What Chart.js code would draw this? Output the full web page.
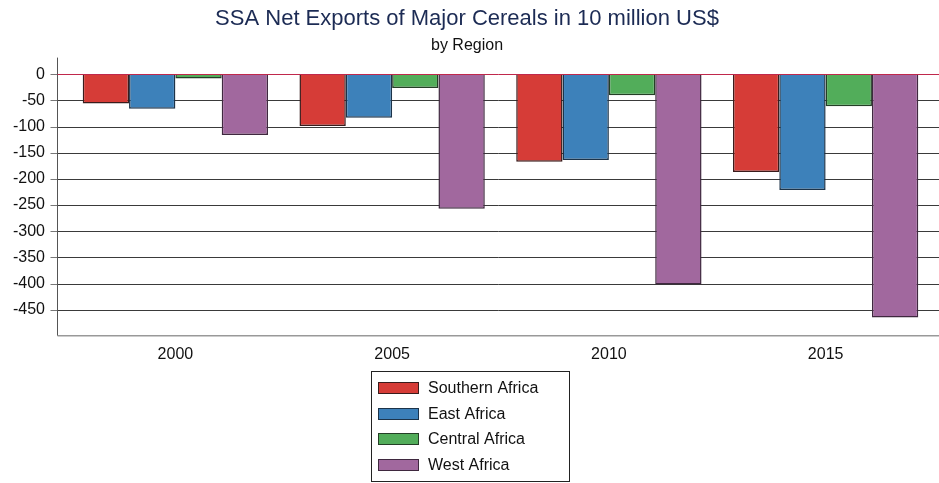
<!DOCTYPE html>
<html>
<head>
<meta charset="utf-8">
<script src="https://cdn.jsdelivr.net/npm/chart.js@4"></script>
<style>
  html, body { margin: 0; padding: 0; background: #fff; }
</style>
</head>
<body>
<canvas id="myChart" width="939" height="483"></canvas>
<script>
const years = ["2000", "2005", "2010", "2015"];
const southernAfrica = [-56, -99, -167, -187];
const eastAfrica = [-66, -83, -164, -221];
const centralAfrica = [-8, -26, -40, -61];
const westAfrica = [-116, -257, -402, -465];
const yTicks = [0, -50, -100, -150, -200, -250, -300, -350, -400, -450];

const FONT = '"Liberation Sans", Arial, sans-serif';

// grid, axis lines and tick marks, drawn a bit left of the bars
const framePlugin = {
  id: "frame",
  beforeDatasetsDraw(chart) {
    const { ctx, chartArea: a, scales: { y } } = chart;
    const axisX = a.left - 9.5;
    ctx.save();
    ctx.lineWidth = 1;
    y.ticks.forEach((t) => {
      const py = Math.round(y.getPixelForValue(t.value)) + 0.5;
      ctx.strokeStyle = "#777";
      ctx.beginPath();
      ctx.moveTo(axisX - 7, py);
      ctx.lineTo(axisX, py);
      ctx.stroke();
      if (t.value === 0) return;
      ctx.strokeStyle = "#3a3a3a";
      ctx.beginPath();
      ctx.moveTo(axisX, py);
      ctx.lineTo(chart.width, py);
      ctx.stroke();
    });
    ctx.strokeStyle = "#555";
    ctx.beginPath();
    ctx.moveTo(axisX, a.top);
    ctx.lineTo(axisX, a.bottom);
    ctx.stroke();
    ctx.strokeStyle = "#999";
    ctx.lineWidth = 1.5;
    ctx.beginPath();
    ctx.moveTo(axisX, a.bottom);
    ctx.lineTo(chart.width, a.bottom);
    ctx.stroke();
    ctx.restore();
  },
  afterDatasetsDraw(chart) {
    const { ctx, chartArea: a, scales: { y } } = chart;
    const py = Math.round(y.getPixelForValue(0)) + 0.5;
    ctx.save();
    ctx.strokeStyle = "#c0284c";
    ctx.lineWidth = 1;
    ctx.beginPath();
    ctx.moveTo(a.left - 9.5, py);
    ctx.lineTo(chart.width, py);
    ctx.stroke();
    ctx.restore();
  },
};

// boxed one-column legend under the plot
const boxLegend = {
  id: "boxLegend",
  afterDraw(chart) {
    const { ctx } = chart;
    const left = 371, top = 371, w = 198, h = 110, rowH = 25.7;
    ctx.save();
    ctx.strokeStyle = "#222";
    ctx.lineWidth = 1;
    ctx.strokeRect(left + 0.5, top + 0.5, w, h);
    ctx.font = "16px " + FONT;
    ctx.textBaseline = "middle";
    chart.data.datasets.forEach((ds, i) => {
      const cy = Math.round(top + 17 + i * rowH);
      ctx.fillStyle = ds.backgroundColor;
      ctx.fillRect(left + 7, cy - 6, 41, 12);
      ctx.strokeStyle = ds.borderColor;
      ctx.strokeRect(left + 7.5, cy - 5.5, 40, 11);
      ctx.fillStyle = "#111";
      ctx.fillText(ds.label, left + 57, cy + 1);
    });
    ctx.restore();
  },
};

const data = {
  labels: years,
  datasets: [
    { label: "Southern Africa", data: southernAfrica, backgroundColor: "#d63c37", borderColor: "#3a1c1c" },
    { label: "East Africa", data: eastAfrica, backgroundColor: "#3d81ba", borderColor: "#1c3349" },
    { label: "Central Africa", data: centralAfrica, backgroundColor: "#52ad5a", borderColor: "#243f26" },
    { label: "West Africa", data: westAfrica, backgroundColor: "#a1689e", borderColor: "#3f283f" },
  ],
};
data.datasets.forEach((ds) => {
  ds.borderWidth = 1.5;
  ds.barPercentage = 1;
  ds.categoryPercentage = 0.855;
});

const config = {
  type: "bar",
  data: data,
  options: {
    responsive: false,
    animation: false,
    devicePixelRatio: 1,
    layout: { padding: { left: 0, right: 5, top: 1, bottom: 110 } },
    plugins: {
      legend: { display: false },
      tooltip: { enabled: false },
      title: {
        display: true,
        text: "SSA Net Exports of Major Cereals in 10 million US$",
        color: "#1c2b54",
        font: { family: FONT, size: 22, weight: "normal" },
        padding: { top: 5, bottom: 3 },
      },
      subtitle: {
        display: true,
        text: "by Region",
        color: "#111",
        font: { family: FONT, size: 16, weight: "normal" },
        padding: { top: 1, bottom: 2 },
      },
    },
    scales: {
      x: {
        grid: { display: false, drawTicks: false },
        border: { display: false },
        ticks: { color: "#111", font: { family: FONT, size: 16 }, padding: 9 },
      },
      y: {
        min: -500,
        max: 32,
        afterBuildTicks: (s) => { s.ticks = yTicks.map((v) => ({ value: v })); },
        afterFit: (s) => { s.width = 67; },
        grid: { display: false, drawTicks: false },
        border: { display: false },
        ticks: { color: "#111", font: { family: FONT, size: 16 }, padding: 22 },
      },
    },
  },
  plugins: [framePlugin, boxLegend],
};

const myChart = new Chart(document.getElementById("myChart"), config);
</script>
</body>
</html>
